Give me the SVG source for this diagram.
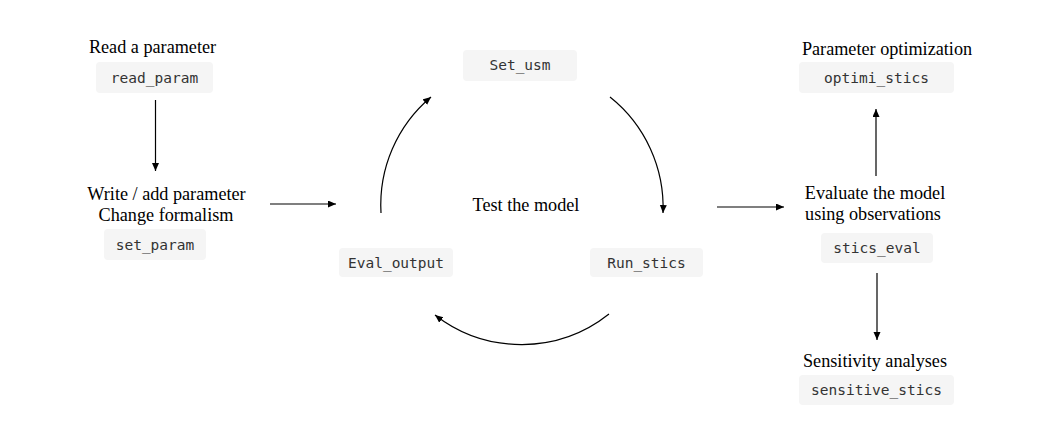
<svg xmlns="http://www.w3.org/2000/svg" width="1040" height="435" viewBox="0 0 1040 435">
<style>
.lbl{font-family:"Liberation Serif","Times New Roman",serif;font-size:18.2px;fill:#000;text-anchor:middle}
.box{fill:#f5f5f5}
.code{font-family:"DejaVu Sans Mono","Liberation Mono",monospace;font-size:14.5px;fill:#333;text-anchor:middle}
.edge{fill:none;stroke:#000;stroke-width:1.2;marker-end:url(#ah)}
</style>
<defs>
<marker id="ah" markerUnits="userSpaceOnUse" markerWidth="9" markerHeight="8" refX="8" refY="3.5" orient="auto">
<path d="M0,0 L8,3.5 L0,7 z" fill="#000"/>
</marker>
</defs>
<rect width="1040" height="435" fill="#fff"/>
<g id="connectors">
<path class="edge" d="M155.5,100 L155.5,171"/>
<path class="edge" d="M270,204 L336,204"/>
<path class="edge" d="M717,207 L784,207"/>
<path class="edge" d="M876,176 L876,109"/>
<path class="edge" d="M877,273 L877,340"/>
<path class="edge" d="M381,213 A141,141 0 0 1 431,97"/>
<path class="edge" d="M610,97 A141,141 0 0 1 663,213"/>
<path class="edge" d="M609,314 A141,141 0 0 1 435,315"/>
</g>
<g id="read_param">
<text class="lbl" x="152.5" y="53">Read a parameter</text>
<rect class="box" x="96" y="62" width="117" height="31" rx="4"/>
<text class="code" x="154.5" y="83">read_param</text>
</g>
<g id="set_param">
<text class="lbl" x="166.5" y="200">Write / add parameter</text>
<text class="lbl" x="166" y="221">Change formalism</text>
<rect class="box" x="104" y="229" width="102" height="31" rx="4"/>
<text class="code" x="155" y="250">set_param</text>
</g>
<g id="test_model">
<text class="lbl" x="526" y="211">Test the model</text>
</g>
<g id="set_usm">
<rect class="box" x="463" y="50" width="114" height="31" rx="4"/>
<text class="code" x="520" y="70">Set_usm</text>
</g>
<g id="eval_output">
<rect class="box" x="339" y="248" width="114" height="29" rx="4"/>
<text class="code" x="396" y="267.5">Eval_output</text>
</g>
<g id="run_stics">
<rect class="box" x="590" y="248" width="113" height="29" rx="4"/>
<text class="code" x="646.5" y="267.5">Run_stics</text>
</g>
<g id="optimi_stics">
<text class="lbl" x="887" y="55">Parameter optimization</text>
<rect class="box" x="799" y="62" width="155" height="31" rx="4"/>
<text class="code" x="876.5" y="83">optimi_stics</text>
</g>
<g id="stics_eval">
<text class="lbl" x="875" y="199">Evaluate the model</text>
<text class="lbl" x="873" y="220">using observations</text>
<rect class="box" x="821" y="233" width="112" height="30" rx="4"/>
<text class="code" x="877" y="253">stics_eval</text>
</g>
<g id="sensitive_stics">
<text class="lbl" x="875" y="367">Sensitivity analyses</text>
<rect class="box" x="799" y="375" width="155" height="30" rx="4"/>
<text class="code" x="876.5" y="395">sensitive_stics</text>
</g>
</svg>
